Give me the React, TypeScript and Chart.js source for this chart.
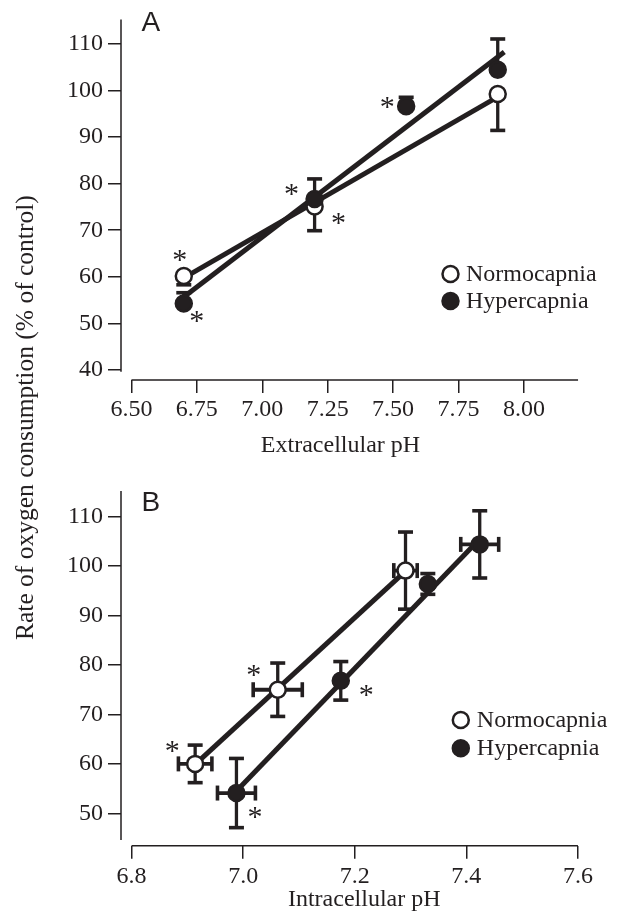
import React, { useEffect, useRef } from 'react';
import { Chart, registerables } from 'chart.js';

Chart.register(...registerables);

const INK = '#231f20';
const SERIF = "'Liberation Serif', 'Times New Roman', serif";
const SANS = "'Liberation Sans', Arial, sans-serif";

// ---------------- Panel A: extracellular pH ----------------
const aXTicks = [6.5, 6.75, 7.0, 7.25, 7.5, 7.75, 8.0];
const aXTickLabels = ['6.50', '6.75', '7.00', '7.25', '7.50', '7.75', '8.00'];
const aYTicks = [40, 50, 60, 70, 80, 90, 100, 110];
const aNormoX = [6.7, 7.2, 7.9];
const aNormoY = [60.2, 75.1, 99.2];
const aNormoErrUp = [0, 0, 0];
const aNormoErrDown = [1.9, 5.2, 7.8];
const aHyperX = [6.7, 7.2, 7.55, 7.9];
const aHyperY = [54.3, 76.7, 96.6, 104.4];
const aHyperErrUp = [2.3, 4.3, 1.9, 6.6];
const aHyperErrDown = [0, 0, 0, 0];
const aNormoFitX = [6.7, 7.9];
const aNormoFitY = [59.8, 98.6];
const aHyperFitX = [6.7, 7.925];
const aHyperFitY = [55.7, 108.2];

// ---------------- Panel B: intracellular pH ----------------
const bXTicks = [6.8, 7.0, 7.2, 7.4, 7.6];
const bXTickLabels = ['6.8', '7.0', '7.2', '7.4', '7.6'];
const bYTicks = [50, 60, 70, 80, 90, 100, 110];
const bNormoX = [6.914, 7.062, 7.291];
const bNormoY = [60.0, 75.0, 99.1];
const bNormoErrY = [3.8, 5.4, 7.8];
const bNormoErrX = [0.03, 0.044, 0.021];
const bHyperX = [6.988, 7.175, 7.331, 7.424];
const bHyperY = [54.1, 76.8, 96.4, 104.4];
const bHyperErrY = [7.0, 3.9, 2.1, 6.8];
const bHyperErrX = [0.034, 0, 0, 0.034];
const bNormoFitX = [6.914, 7.291];
const bNormoFitY = [59.9, 99.0];
const bHyperFitX = [6.988, 7.424];
const bHyperFitY = [54.5, 105.5];

const SERIES_LABELS = ['Normocapnia', 'Hypercapnia'];

// significance asterisks: series (0 normo, 1 hyper), point index, pixel offset
const aStars = [
  { s: 0, i: 0, dx: -4, dy: -21 },
  { s: 1, i: 0, dx: 13, dy: 12.5 },
  { s: 1, i: 1, dx: -23, dy: -10 },
  { s: 0, i: 1, dx: 24, dy: 11 },
  { s: 1, i: 2, dx: -19, dy: -4 },
];
const bStars = [
  { s: 0, i: 0, dx: -23, dy: -17.5 },
  { s: 1, i: 0, dx: 18.5, dy: 18.5 },
  { s: 0, i: 1, dx: -24, dy: -20 },
  { s: 1, i: 1, dx: 25.5, dy: 9.5 },
];

const pts = (xs: number[], ys: number[]) => xs.map((x, i) => ({ x, y: ys[i] }));

const decorPlugin = {
  id: 'decor',
  beforeDatasetsDraw(chart: any, _a: any, o: any) {
    const { ctx, chartArea } = chart;
    const xs = chart.scales.x;
    const ys = chart.scales.y;
    ctx.save();
    ctx.strokeStyle = INK;
    ctx.lineCap = 'butt';
    // detached axis lines
    ctx.lineWidth = 1.5;
    ctx.beginPath();
    ctx.moveTo(chartArea.left, ys.getPixelForValue(o.yLineFrom));
    ctx.lineTo(chartArea.left, chartArea.top);
    ctx.moveTo(xs.getPixelForValue(o.xLineFrom), chartArea.bottom);
    ctx.lineTo(xs.getPixelForValue(o.xLineTo), chartArea.bottom);
    ctx.stroke();
    const seg = (x1: number, y1: number, x2: number, y2: number, w: number) => {
      ctx.lineWidth = w;
      ctx.beginPath();
      ctx.moveTo(x1, y1);
      ctx.lineTo(x2, y2);
      ctx.stroke();
    };
    chart.data.datasets.forEach((ds: any) => {
      if (!ds.errUp) return;
      ds.data.forEach((pt: any, i: number) => {
        const px = xs.getPixelForValue(pt.x);
        const py = ys.getPixelForValue(pt.y);
        const up = ds.errUp[i] || 0;
        const dn = ds.errDown[i] || 0;
        const ex = (ds.errX && ds.errX[i]) || 0;
        if (up > 0) {
          const t = ys.getPixelForValue(pt.y + up);
          seg(px, py, px, t, o.barWidth);
          seg(px - o.cap, t, px + o.cap, t, o.capWidth);
        }
        if (dn > 0) {
          const b = ys.getPixelForValue(pt.y - dn);
          seg(px, py, px, b, o.barWidth);
          seg(px - o.cap, b, px + o.cap, b, o.capWidth);
        }
        if (ex > 0) {
          const l = xs.getPixelForValue(pt.x - ex);
          const r = xs.getPixelForValue(pt.x + ex);
          seg(l, py, r, py, o.hBarWidth);
          seg(l, py - o.cap, l, py + o.cap, o.capWidth);
          seg(r, py - o.cap, r, py + o.cap, o.capWidth);
        }
      });
    });
    ctx.restore();
  },
  afterDraw(chart: any, _a: any, o: any) {
    const { ctx } = chart;
    const xs = chart.scales.x;
    const ys = chart.scales.y;
    const series = chart.data.datasets.filter((d: any) => d.errUp);
    ctx.save();
    // asterisks
    ctx.fillStyle = INK;
    ctx.font = `${o.starSize}px ${SERIF}`;
    ctx.textAlign = 'center';
    ctx.textBaseline = 'alphabetic';
    o.stars.forEach((st: any) => {
      const p = series[st.s].data[st.i];
      const cx = xs.getPixelForValue(p.x) + st.dx;
      const cy = ys.getPixelForValue(p.y) + st.dy;
      ctx.fillText('*', cx, cy + o.starSize * 0.47);
    });
    // legend
    ctx.font = `24px ${SERIF}`;
    ctx.textAlign = 'left';
    series.forEach((ds: any, k: number) => {
      const cy = o.legend.y + k * o.legend.gap;
      ctx.beginPath();
      ctx.arc(o.legend.x, cy, 8, 0, Math.PI * 2);
      ctx.fillStyle = ds.backgroundColor;
      ctx.fill();
      ctx.lineWidth = 2.5;
      ctx.strokeStyle = INK;
      ctx.stroke();
      ctx.fillStyle = INK;
      ctx.fillText(ds.label, o.legend.x + o.legend.textDx, cy + 7);
    });
    // panel letter
    ctx.font = `28px ${SANS}`;
    ctx.fillText(o.letter.text, o.letter.x, o.letter.y);
    ctx.restore();
  },
};

type Spec = {
  xMin: number; xMax: number; yMin: number; yMax: number;
  xTicks: number[]; xTickLabels: string[]; yTicks: number[];
  xTitle: string; padRight: number; padTop: number; xAxisHeight: number;
  xTickPad: number; xTitlePadBottom: number;
  normo: { x: number; y: number }[]; hyper: { x: number; y: number }[];
  normoErrUp: number[]; normoErrDown: number[]; normoErrX?: number[];
  hyperErrUp: number[]; hyperErrDown: number[]; hyperErrX?: number[];
  normoFit: { x: number; y: number }[]; hyperFit: { x: number; y: number }[];
  decor: any;
};

const panelA: Spec = {
  xMin: 6.46, xMax: 8.138, yMin: 37.89, yMax: 115.2,
  xTicks: aXTicks, xTickLabels: aXTickLabels, yTicks: aYTicks,
  xTitle: 'Extracellular pH', padRight: 58, padTop: 13, xAxisHeight: 80,
  xTickPad: 2, xTitlePadBottom: 0,
  normo: pts(aNormoX, aNormoY), hyper: pts(aHyperX, aHyperY),
  normoErrUp: aNormoErrUp, normoErrDown: aNormoErrDown,
  hyperErrUp: aHyperErrUp, hyperErrDown: aHyperErrDown,
  normoFit: pts(aNormoFitX, aNormoFitY), hyperFit: pts(aHyperFitX, aHyperFitY),
  decor: {
    yLineFrom: 39.65, xLineFrom: 6.5, xLineTo: 8.207,
    barWidth: 3.3, hBarWidth: 3.8, cap: 7.5, capWidth: 3.6,
    stars: aStars, starSize: 30,
    legend: { x: 450.5, y: 274, gap: 27, textDx: 15.5 },
    letter: { text: 'A', x: 141.5, y: 30.7 },
  },
};

const panelB: Spec = {
  xMin: 6.7811, xMax: 7.653, yMin: 43.45, yMax: 115.2,
  xTicks: bXTicks, xTickLabels: bXTickLabels, yTicks: bYTicks,
  xTitle: 'Intracellular pH', padRight: 3, padTop: 31, xAxisHeight: 75.3,
  xTickPad: 3.5, xTitlePadBottom: 6.4,
  normo: pts(bNormoX, bNormoY), hyper: pts(bHyperX, bHyperY),
  normoErrUp: bNormoErrY, normoErrDown: bNormoErrY, normoErrX: bNormoErrX,
  hyperErrUp: bHyperErrY, hyperErrDown: bHyperErrY, hyperErrX: bHyperErrX,
  normoFit: pts(bNormoFitX, bNormoFitY), hyperFit: pts(bHyperFitX, bHyperFitY),
  decor: {
    yLineFrom: 44.6, xLineFrom: 6.8, xLineTo: 7.6,
    barWidth: 3.3, hBarWidth: 3.8, cap: 7.5, capWidth: 3.6,
    stars: bStars, starSize: 30,
    legend: { x: 460.8, y: 260, gap: 28.3, textDx: 16 },
    letter: { text: 'B', x: 141.5, y: 50.7 },
  },
};

function makeConfig(p: Spec): any {
  const font = { family: SERIF, size: 24 };
  const lineDs = (data: any) => ({
    type: 'line', data, borderColor: INK, borderWidth: 5, pointRadius: 0, pointHoverRadius: 0,
    fill: false, tension: 0, order: 3, borderCapStyle: 'butt', showLine: true,
  });
  return {
    type: 'scatter',
    data: {
      datasets: [
        { ...lineDs(p.normoFit), label: 'fitN' },
        { ...lineDs(p.hyperFit), label: 'fitH' },
        {
          type: 'scatter', label: SERIES_LABELS[0], data: p.normo,
          backgroundColor: '#ffffff', borderColor: INK, borderWidth: 2.5, pointRadius: 8, pointHoverRadius: 8,
          order: 2, errUp: p.normoErrUp, errDown: p.normoErrDown, errX: p.normoErrX,
        },
        {
          type: 'scatter', label: SERIES_LABELS[1], data: p.hyper,
          backgroundColor: INK, borderColor: INK, borderWidth: 2.5, pointRadius: 8, pointHoverRadius: 8,
          order: 1, errUp: p.hyperErrUp, errDown: p.hyperErrDown, errX: p.hyperErrX,
        },
      ],
    },
    options: {
      responsive: false,
      animation: false,
      devicePixelRatio: 1,
      events: [],
      layout: { padding: { left: 0, right: p.padRight, top: p.padTop, bottom: 0 } },
      plugins: { legend: { display: false }, tooltip: { enabled: false }, decor: p.decor },
      scales: {
        x: {
          type: 'linear', position: 'bottom', min: p.xMin, max: p.xMax,
          afterBuildTicks: (s: any) => { s.ticks = p.xTicks.map((v) => ({ value: v })); },
          afterFit: (s: any) => { s.height = p.xAxisHeight; },
          ticks: {
            autoSkip: false, maxRotation: 0, minRotation: 0, padding: p.xTickPad, color: INK, font,
            callback: (_v: any, i: number) => p.xTickLabels[i],
          },
          grid: { drawOnChartArea: false, drawTicks: true, tickLength: 13, color: INK, lineWidth: 1.5 },
          border: { display: false },
          title: { display: true, text: p.xTitle, color: INK, font, padding: { top: 0, bottom: p.xTitlePadBottom } },
        },
        y: {
          type: 'linear', position: 'left', min: p.yMin, max: p.yMax,
          afterBuildTicks: (s: any) => { s.ticks = p.yTicks.map((v) => ({ value: v })); },
          afterFit: (s: any) => { s.width = 121; },
          ticks: { autoSkip: false, padding: 5, color: INK, font, callback: (v: any) => String(v) },
          grid: { drawOnChartArea: false, drawTicks: true, tickLength: 13, color: INK, lineWidth: 1.5 },
          border: { display: false },
        },
      },
    },
    plugins: [decorPlugin],
  };
}

function PanelChart({ spec, top, height }: { spec: Spec; top: number; height: number }) {
  const ref = useRef<HTMLCanvasElement>(null);
  useEffect(() => {
    const chart = new Chart(ref.current as HTMLCanvasElement, makeConfig(spec));
    return () => chart.destroy();
  }, [spec]);
  return (
    <canvas
      ref={ref}
      width={618}
      height={height}
      style={{ position: 'absolute', left: 0, top, width: 618, height, display: 'block' }}
    />
  );
}

export default function App() {
  return (
    <div style={{ position: 'absolute', left: 0, top: 0, width: 618, height: 921, background: '#ffffff', overflow: 'hidden' }}>
      <PanelChart spec={panelA} top={0} height={460} />
      <PanelChart spec={panelB} top={460} height={461} />
      <div
        style={{
          position: 'absolute', left: 11.7, top: 640, transform: 'rotate(-90deg)', transformOrigin: '0 0',
          whiteSpace: 'nowrap', fontFamily: SERIF, fontSize: 25.5, lineHeight: '25.5px', color: INK,
        }}
      >
        Rate of oxygen consumption (% of control)
      </div>
    </div>
  );
}
